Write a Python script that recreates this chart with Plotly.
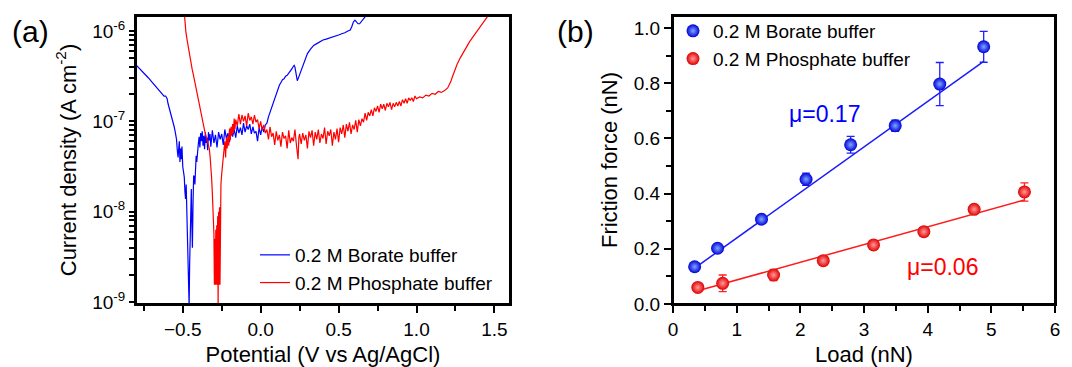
import plotly.graph_objects as go

# ---------------- Panel (a): polarization curves ----------------
borate_potential = [
    -0.80, -0.78, -0.76, -0.74, -0.72, -0.70, -0.68, -0.66, -0.645, -0.63,
    -0.62, -0.61, -0.60, -0.595, -0.585, -0.575, -0.565, -0.555, -0.548, -0.540,
    -0.535, -0.530, -0.526, -0.522, -0.518, -0.514, -0.510, -0.505, -0.500, -0.495,
    -0.490, -0.486, -0.482, -0.478, -0.474, -0.470, -0.466, -0.462, -0.459, -0.456,
    -0.452, -0.448, -0.445, -0.442, -0.438, -0.434, -0.430, -0.426, -0.422, -0.418,
    -0.414, -0.410, -0.405,
    -0.400, -0.395, -0.390, -0.385, -0.380, -0.375, -0.370, -0.365, -0.360, -0.355,
    -0.350, -0.345, -0.340, -0.335, -0.330, -0.325, -0.320, -0.310, -0.300, -0.290,
    -0.280, -0.270, -0.260, -0.250, -0.240, -0.230, -0.220, -0.210, -0.200, -0.190,
    -0.180, -0.170, -0.160, -0.150, -0.140, -0.130, -0.120, -0.110, -0.100, -0.090,
    -0.080, -0.070, -0.060, -0.050, -0.040, -0.030, -0.020, -0.010, 0.000, 0.010,
    0.020, 0.030,
    0.040, 0.050, 0.060, 0.070, 0.080, 0.090, 0.100, 0.110, 0.120, 0.130,
    0.140, 0.150, 0.160, 0.170, 0.180, 0.190, 0.200, 0.210, 0.215, 0.220,
    0.228, 0.235, 0.240, 0.250, 0.260, 0.270, 0.280, 0.290, 0.300, 0.320,
    0.340, 0.360, 0.380, 0.400, 0.420, 0.440, 0.460, 0.480, 0.500, 0.520,
    0.540, 0.560, 0.575, 0.585, 0.595, 0.605, 0.615, 0.625, 0.635, 0.645,
    0.660, 0.675, 0.690,
]
borate_log10_j = [
    -6.376, -6.41, -6.45, -6.48, -6.52, -6.56, -6.60, -6.65, -6.68, -6.70,
    -6.72, -6.72, -6.75, -6.80, -6.86, -6.94, -7.00, -7.06, -7.12, -7.20,
    -7.32, -7.40, -7.30, -7.22, -7.45, -7.30, -7.42, -7.28, -7.50, -7.55,
    -7.62, -7.78, -7.86, -7.70, -7.95, -8.10, -8.45, -8.80, -9.05, -8.60,
    -8.20, -7.95, -7.75, -8.10, -8.40, -7.90, -7.60, -7.62, -7.70, -7.45,
    -7.38, -7.45, -7.30,
    -7.25, -7.17, -7.29, -7.13, -7.22, -7.11, -7.27, -7.16, -7.31, -7.12,
    -7.24, -7.18, -7.32, -7.12, -7.21, -7.14, -7.28, -7.10, -7.24, -7.15,
    -7.29, -7.12, -7.20, -7.14, -7.26, -7.09, -7.19, -7.13, -7.23, -7.08,
    -7.17, -7.09, -7.18, -7.05, -7.13, -7.07, -7.15, -7.02, -7.12, -7.05,
    -7.09, -7.03, -7.14, -7.06, -7.13, -7.11, -7.22, -7.07, -7.15, -7.06,
    -7.12, -7.04,
    -7.02, -6.95, -6.90, -6.84, -6.79, -6.73, -6.68, -6.64, -6.60, -6.57,
    -6.54, -6.53, -6.50, -6.49, -6.47, -6.45, -6.42, -6.39, -6.38, -6.40,
    -6.48, -6.55, -6.53, -6.48, -6.43, -6.38, -6.33, -6.29, -6.25, -6.20,
    -6.16, -6.14, -6.12, -6.10, -6.09, -6.08, -6.07, -6.06, -6.045, -6.03,
    -6.02, -6.00, -5.99, -5.95, -5.90, -5.88, -5.90, -5.92, -5.92, -5.90,
    -5.87, -5.84, -5.80,
]

phosphate_potential = [
    -0.490, -0.485, -0.480, -0.470, -0.460, -0.450, -0.440, -0.430, -0.420, -0.410,
    -0.400, -0.390, -0.380, -0.370, -0.360, -0.350, -0.340, -0.330, -0.325, -0.320,
    -0.315, -0.310, -0.305, -0.300, -0.297, -0.294, -0.291, -0.288, -0.285, -0.282,
    -0.279, -0.276, -0.273, -0.270, -0.267, -0.264, -0.261, -0.258, -0.255, -0.250,
    -0.245, -0.240,
    -0.235, -0.230, -0.225, -0.220, -0.215, -0.210, -0.205, -0.200, -0.195, -0.190,
    -0.185, -0.180, -0.175, -0.170, -0.165, -0.160, -0.150, -0.140, -0.130, -0.120,
    -0.110, -0.100, -0.090, -0.080, -0.070, -0.060, -0.050, -0.040, -0.030, -0.020,
    -0.010,
    0.000, 0.010, 0.020, 0.030, 0.040, 0.050, 0.060, 0.070, 0.080, 0.090,
    0.100, 0.110, 0.120, 0.130, 0.140, 0.150, 0.160, 0.170, 0.180, 0.190,
    0.200, 0.210, 0.220, 0.230, 0.235, 0.240, 0.245, 0.250, 0.260, 0.270,
    0.280, 0.290, 0.300, 0.310, 0.320, 0.330, 0.340, 0.350, 0.360, 0.370,
    0.380, 0.390, 0.400, 0.410, 0.420, 0.430, 0.440, 0.450, 0.460, 0.470,
    0.480, 0.490, 0.500, 0.510, 0.520, 0.530, 0.540, 0.550, 0.560, 0.570,
    0.580, 0.590, 0.600, 0.610, 0.620, 0.630, 0.640, 0.650, 0.660, 0.670,
    0.680, 0.690, 0.700, 0.710, 0.720, 0.730, 0.740, 0.750, 0.760, 0.770,
    0.780, 0.790, 0.800, 0.810, 0.820, 0.830, 0.840, 0.850, 0.860, 0.870,
    0.880, 0.890, 0.900, 0.910, 0.920, 0.930, 0.940, 0.950, 0.960, 0.970,
    0.980, 0.990, 1.000,
    1.020, 1.040, 1.060, 1.080, 1.100, 1.120, 1.140, 1.160, 1.180, 1.200,
    1.210, 1.220, 1.230, 1.240, 1.260, 1.280, 1.300, 1.320, 1.340, 1.360,
    1.380, 1.400, 1.420, 1.440, 1.460, 1.480,
]
phosphate_log10_j = [
    -5.80, -5.92, -6.01, -6.12, -6.23, -6.33, -6.42, -6.50, -6.59, -6.67,
    -6.76, -6.86, -6.96, -7.04, -7.10, -7.17, -7.24, -7.30, -7.38, -7.48,
    -7.62, -7.80, -8.00, -8.25, -8.81, -8.30, -8.81, -8.20, -8.81, -8.15,
    -8.81, -8.05, -9.05, -8.00, -8.81, -7.95, -8.81, -7.85, -7.70, -7.58,
    -7.50, -7.42,
    -7.33, -7.22, -7.40, -7.18, -7.30, -7.16, -7.27, -7.08, -7.21, -7.06,
    -7.16, -7.03, -7.13, -6.97, -7.09, -6.98, -7.05, -6.92, -7.03, -6.93,
    -7.00, -6.94, -7.05, -6.91, -6.99, -6.95, -7.03, -6.93, -7.01, -6.98,
    -7.08,
    -7.00, -7.10, -7.04, -7.13, -7.09, -7.20, -7.06, -7.17, -7.13, -7.26,
    -7.11, -7.21, -7.15, -7.28, -7.12, -7.19, -7.16, -7.30, -7.10, -7.24,
    -7.18, -7.22, -7.09, -7.27, -7.36, -7.42, -7.18, -7.14, -7.25, -7.13,
    -7.21, -7.15, -7.30, -7.11, -7.18, -7.10, -7.27, -7.12, -7.20, -7.09,
    -7.24, -7.14, -7.19, -7.07, -7.25, -7.11, -7.16, -7.09, -7.27, -7.12,
    -7.20, -7.08, -7.23, -7.07, -7.14, -7.04, -7.18, -7.03, -7.11, -7.01,
    -7.14, -7.04, -7.09, -6.99, -7.12, -6.98, -7.05, -6.97, -7.01, -6.91,
    -6.99, -6.90, -6.94, -6.87, -6.94, -6.85, -6.89, -6.83, -6.90, -6.81,
    -6.86, -6.81, -6.88, -6.80, -6.84, -6.79, -6.87, -6.80, -6.84, -6.79,
    -6.83, -6.78, -6.83, -6.76, -6.80, -6.75, -6.80, -6.74, -6.77, -6.74,
    -6.78, -6.72, -6.75,
    -6.73, -6.74, -6.71, -6.72, -6.69, -6.70, -6.67, -6.68, -6.66, -6.63,
    -6.60, -6.56, -6.51, -6.46, -6.37, -6.30, -6.24, -6.17, -6.12, -6.07,
    -6.02, -5.97, -5.92, -5.87, -5.83, -5.79,
]

log_tick_exponents = [-9, -8, -7, -6]
log_minor_mantissas = [2, 3, 4, 5, 6, 7, 8, 9]

# ---------------- Panel (b): friction vs load ----------------
borate_load = [0.34, 0.70, 1.39, 2.09, 2.79, 3.49, 4.19, 4.88]
borate_friction = [0.135, 0.202, 0.307, 0.452, 0.577, 0.646, 0.797, 0.932]
borate_err = [0.010, 0.010, 0.010, 0.022, 0.030, 0.020, 0.078, 0.056]

phosphate_load = [0.39, 0.78, 1.58, 2.36, 3.15, 3.94, 4.73, 5.52]
phosphate_friction = [0.060, 0.075, 0.105, 0.157, 0.214, 0.262, 0.343, 0.406]
phosphate_err = [0.008, 0.030, 0.020, 0.010, 0.010, 0.010, 0.010, 0.033]

# linear fits (slope, intercept)
borate_fit = [0.165, 0.074]
phosphate_fit = [0.0641, 0.023]

series_names = ["0.2 M Borate buffer", "0.2 M Phosphate buffer"]

BLUE = "#0000ff"
RED = "#ff0000"
FONT = "Liberation Sans, Arial, sans-serif"

W, H = 1072, 367
TITLE_SIZE = 22
y_dom = [1 - 304 / H, 1 - 16 / H]
xa_dom = [136 / W, 510 / W]
xb_dom = [673 / W, 1055 / W]
xa_range = [-0.8, 1.6]
log_range = [-9.022, -5.834]

fig = go.Figure()

fig.add_trace(go.Scatter(
    x=borate_potential, y=[10 ** v for v in borate_log10_j], mode="lines",
    line=dict(color=BLUE, width=1.2), name=series_names[0],
    xaxis="x", yaxis="y", legend="legend",
))
fig.add_trace(go.Scatter(
    x=phosphate_potential, y=[10 ** v for v in phosphate_log10_j], mode="lines",
    line=dict(color=RED, width=1.2), name=series_names[1],
    xaxis="x", yaxis="y", legend="legend",
))

# fit lines
for load, fit, col in [(borate_load, borate_fit, "#1a1aff"), (phosphate_load, phosphate_fit, "#ff1a1a")]:
    xs = [load[0], load[-1]]
    fig.add_trace(go.Scatter(
        x=xs, y=[fit[0] * v + fit[1] for v in xs], mode="lines",
        line=dict(color=col, width=1.5), showlegend=False,
        xaxis="x2", yaxis="y2", hoverinfo="skip",
    ))

fig.add_trace(go.Scatter(
    x=borate_load, y=borate_friction, mode="markers", name=series_names[0],
    marker=dict(size=13, color="#0000d8", gradient=dict(type="radial", color="#7fa8ff"), line=dict(width=0)),
    error_y=dict(type="data", array=borate_err, color="#2020ff", thickness=1.3, width=4),
    xaxis="x2", yaxis="y2", legend="legend2",
))
fig.add_trace(go.Scatter(
    x=phosphate_load, y=phosphate_friction, mode="markers", name=series_names[1],
    marker=dict(size=13, color="#e00000", gradient=dict(type="radial", color="#ff9a9a"), line=dict(width=0)),
    error_y=dict(type="data", array=phosphate_err, color="#ff2020", thickness=1.3, width=4),
    xaxis="x2", yaxis="y2", legend="legend2",
))

ax_common = dict(
    showline=True, linecolor="black", linewidth=2, mirror=True,
    ticks="outside", ticklen=7, tickwidth=1.5, tickcolor="black",
    showgrid=False, zeroline=False, automargin=False,
    tickfont=dict(family=FONT, size=19, color="black"),
)

major_vals = [10 ** e for e in log_tick_exponents]
minor_vals = [m * 10 ** e for e in log_tick_exponents[:-1] for m in log_minor_mantissas]
major_text = ["10<sup>%d</sup>" % e for e in log_tick_exponents]

shapes = [
    dict(type="rect", xref="paper", yref="paper", x0=xa_dom[0], x1=xa_dom[1], y0=y_dom[0], y1=y_dom[1],
         line=dict(color="black", width=2), layer="above"),
    dict(type="rect", xref="paper", yref="paper", x0=xb_dom[0], x1=xb_dom[1], y0=y_dom[0], y1=y_dom[1],
         line=dict(color="black", width=2), layer="above"),
]

fig.update_layout(
    template="none",
    width=W, height=H,
    margin=dict(l=0, r=0, t=0, b=0),
    paper_bgcolor="white", plot_bgcolor="white",
    font=dict(family=FONT, size=19, color="black"),
    xaxis=dict(
        **ax_common, domain=xa_dom, range=xa_range,
        tick0=0, dtick=0.5, tickformat=".1f",
        minor=dict(dtick=0.25, tick0=0, ticks="outside", ticklen=5, tickwidth=1.5, tickcolor="black"),
        title=dict(text="Potential (V vs Ag/AgCl)", font=dict(family=FONT, size=TITLE_SIZE), standoff=12),
        anchor="y",
    ),
    yaxis=dict(
        **{k: v for k, v in ax_common.items() if k != "ticklen"}, ticklen=5,
        domain=y_dom, type="log", range=log_range,
        tickmode="array",
        tickvals=major_vals + minor_vals,
        ticktext=major_text + [""] * len(minor_vals),
        title=dict(text="Current density (A cm<sup>-2</sup>)", font=dict(family=FONT, size=TITLE_SIZE), standoff=10),
        anchor="x",
    ),
    xaxis2=dict(
        **ax_common, domain=xb_dom, range=[0, 6],
        tick0=0, dtick=1,
        minor=dict(dtick=0.5, tick0=0, ticks="outside", ticklen=5, tickwidth=1.5, tickcolor="black"),
        title=dict(text="Load (nN)", font=dict(family=FONT, size=TITLE_SIZE), standoff=12),
        anchor="y2",
    ),
    yaxis2=dict(
        **ax_common, domain=y_dom, range=[0, 1.0435],
        tick0=0, dtick=0.2, tickformat=".1f",
        minor=dict(dtick=0.1, tick0=0, ticks="outside", ticklen=5, tickwidth=1.5, tickcolor="black"),
        title=dict(text="Friction force (nN)", font=dict(family=FONT, size=TITLE_SIZE), standoff=10),
        anchor="x2",
    ),
    legend=dict(
        x=255 / W, y=1 - 236 / H, xanchor="left", yanchor="top",
        bgcolor="rgba(0,0,0,0)", borderwidth=0,
        font=dict(family=FONT, size=19, color="black"), tracegroupgap=0,
    ),
    legend2=dict(
        x=673 / W, y=1 - 12 / H, xanchor="left", yanchor="top",
        bgcolor="rgba(0,0,0,0)", borderwidth=0,
        font=dict(family=FONT, size=19, color="black"), tracegroupgap=0,
    ),
    shapes=shapes,
    annotations=[
        dict(text="(a)", x=30 / W, y=1 - 31 / H, xref="paper", yref="paper",
             xanchor="center", yanchor="middle",
             showarrow=False, font=dict(family=FONT, size=30, color="black")),
        dict(text="(b)", x=575 / W, y=1 - 31 / H, xref="paper", yref="paper",
             xanchor="center", yanchor="middle",
             showarrow=False, font=dict(family=FONT, size=30, color="black")),
        dict(text="\u03bc=0.17", x=2.38, y=0.69, xref="x2", yref="y2",
             showarrow=False, font=dict(family=FONT, size=23, color=BLUE)),
        dict(text="\u03bc=0.06", x=4.24, y=0.134, xref="x2", yref="y2",
             showarrow=False, font=dict(family=FONT, size=23, color=RED)),
    ],
)

fig.write_html("out.html")
